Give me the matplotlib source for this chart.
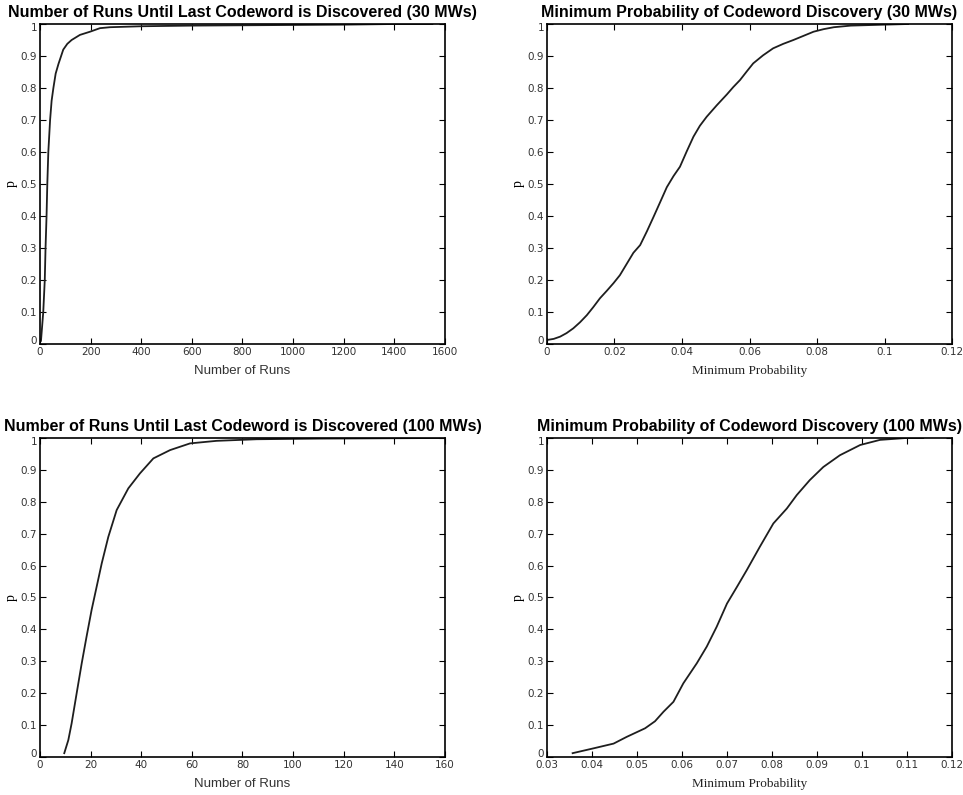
import matplotlib as mpl

mpl.use("Agg")
import matplotlib.pyplot as plt
from matplotlib.transforms import ScaledTranslation

# run counts until the last codeword shows up (30 MWs)
runs30_x = [4, 8, 13, 19, 22, 26, 29, 33, 40, 46, 53, 62, 73, 92, 108, 125, 158,
            198, 237, 277, 400, 600, 800, 1000, 1200, 1400, 1550]
runs30_p = [0.01, 0.05, 0.10, 0.20, 0.30, 0.40, 0.50, 0.60, 0.70, 0.76, 0.80,
            0.845, 0.875, 0.92, 0.938, 0.95, 0.966, 0.976, 0.987, 0.99, 0.993,
            0.995, 0.996, 0.997, 0.998, 1.0, 1.0]

# minimum probability of discovery (30 MWs)
minp30_x = [0.0, 0.002, 0.0039, 0.0058, 0.0078, 0.0098, 0.0118, 0.0137, 0.0157,
            0.0177, 0.0197, 0.0216, 0.0236, 0.0256, 0.0276, 0.0296, 0.0316,
            0.0336, 0.0355, 0.0375, 0.0394, 0.0414, 0.0434, 0.0453, 0.0473,
            0.0503, 0.0533, 0.0552, 0.0572, 0.0592, 0.0611, 0.064, 0.067,
            0.070, 0.073, 0.076, 0.079, 0.082, 0.085, 0.09, 0.1, 0.107]
minp30_p = [0.0125, 0.016, 0.023, 0.034, 0.049, 0.068, 0.09, 0.115, 0.143,
            0.166, 0.19, 0.215, 0.25, 0.285, 0.309, 0.352, 0.398, 0.445, 0.49,
            0.525, 0.554, 0.602, 0.648, 0.682, 0.71, 0.746, 0.78, 0.803, 0.825,
            0.852, 0.877, 0.902, 0.924, 0.938, 0.95, 0.963, 0.976, 0.984, 0.99,
            0.995, 0.998, 1.0]

# run counts (100 MWs)
runs100_x = [9.6, 11.2, 12.5, 14.5, 16.5, 18.4, 20.4, 22.4, 24.4, 27.0, 30.3,
             34.9, 39.5, 44.8, 51.4, 59.3, 69.8, 85.6, 110, 135, 160]
runs100_p = [0.012, 0.053, 0.105, 0.20, 0.294, 0.377, 0.461, 0.534, 0.607, 0.69,
             0.774, 0.842, 0.889, 0.936, 0.962, 0.983, 0.991, 0.996, 0.998,
             0.999, 1.0]

# minimum probability (100 MWs)
minp100_x = [0.0357, 0.0403, 0.0448, 0.0477, 0.0518, 0.0540, 0.0559, 0.0581,
             0.0603, 0.0633, 0.0655, 0.0677, 0.0700, 0.0722, 0.0744, 0.0773,
             0.0803, 0.0833, 0.0855, 0.0884, 0.0914, 0.0951, 0.0996, 0.104,
             0.1099, 0.1136]
minp100_p = [0.012, 0.027, 0.042, 0.063, 0.09, 0.112, 0.142, 0.173, 0.231,
             0.294, 0.346, 0.408, 0.481, 0.533, 0.586, 0.659, 0.732, 0.779,
             0.821, 0.868, 0.909, 0.946, 0.978, 0.994, 1.0, 1.0]

y_ticks = [i / 10 for i in range(11)]
y_labels = ["0", "0.1", "0.2", "0.3", "0.4", "0.5", "0.6", "0.7", "0.8", "0.9", "1"]

panels = [
    ("Number of Runs Until Last Codeword is Discovered (30 MWs)", "Number of Runs",
     runs30_x, runs30_p, (0, 1600), list(range(0, 1601, 200)),
     ["0", "200", "400", "600", "800", "1000", "1200", "1400", "1600"], "sans"),
    ("Minimum Probability of Codeword Discovery (30 MWs)", "Minimum Probability",
     minp30_x, minp30_p, (0, 0.12), [0, 0.02, 0.04, 0.06, 0.08, 0.1, 0.12],
     ["0", "0.02", "0.04", "0.06", "0.08", "0.1", "0.12"], "serif"),
    ("Number of Runs Until Last Codeword is Discovered (100 MWs)", "Number of Runs",
     runs100_x, runs100_p, (0, 160), list(range(0, 161, 20)),
     ["0", "20", "40", "60", "80", "100", "120", "140", "160"], "sans"),
    ("Minimum Probability of Codeword Discovery (100 MWs)", "Minimum Probability",
     minp100_x, minp100_p, (0.03, 0.12),
     [0.03, 0.04, 0.05, 0.06, 0.07, 0.08, 0.09, 0.1, 0.11, 0.12],
     ["0.03", "0.04", "0.05", "0.06", "0.07", "0.08", "0.09", "0.1", "0.11", "0.12"],
     "serif"),
]

positions = [
    [0.0415, 0.5673, 0.4206, 0.4025],
    [0.568, 0.5673, 0.4206, 0.4025],
    [0.0415, 0.0478, 0.4206, 0.4013],
    [0.568, 0.0478, 0.4206, 0.4013],
]

fig = plt.figure(figsize=(9.63, 7.95), dpi=100)

for pos, (title, xlabel, xs, ps, xlim, xt, xtl, lab_font) in zip(positions, panels):
    ax = fig.add_axes(pos)
    ax.plot(xs, ps, color="#1e1e1e", linewidth=1.3)
    ax.set_xlim(*xlim)
    ax.set_ylim(0, 1)
    ax.set_xticks(xt)
    ax.set_xticklabels(xtl)
    ax.set_yticks(y_ticks)
    ax.set_yticklabels(y_labels)
    ax.tick_params(direction="in", top=True, right=True, length=4, width=0.8,
                   labelsize=7.5, labelcolor="#333333", pad=2)
    # matlab-style: nudge end labels inward so they do not clash
    ylabs = ax.get_yticklabels()
    ylabs[0].set_transform(ylabs[0].get_transform()
                           + ScaledTranslation(0, 3 / 72, fig.dpi_scale_trans))
    ylabs[-1].set_transform(ylabs[-1].get_transform()
                            + ScaledTranslation(0, -2 / 72, fig.dpi_scale_trans))
    for s in ax.spines.values():
        s.set_linewidth(1.2)
    ax.set_title(title, fontsize=11.5, fontweight="bold", family="Liberation Sans",
                 pad=5)
    if lab_font == "sans":
        ax.set_xlabel(xlabel, fontsize=9.5, family="Liberation Sans", color="#333333",
                      labelpad=6)
    else:
        ax.set_xlabel(xlabel, fontsize=9.5, family="Liberation Serif", color="#222222",
                      labelpad=6)
    ax.set_ylabel("p", fontsize=10, family="Liberation Serif", labelpad=2)

fig.savefig("out.png", dpi=100)
